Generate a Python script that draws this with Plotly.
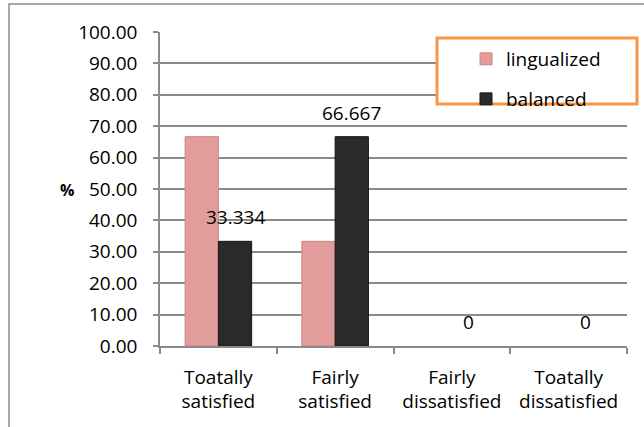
import plotly.graph_objects as go

# Survey responses (percent of respondents) by satisfaction level
categories = ["Toatally<br>satisfied", "Fairly<br>satisfied",
              "Fairly<br>dissatisfied", "Toatally<br>dissatisfied"]
lingualized = [66.667, 33.334, 0, 0]
balanced = [33.334, 66.667, 0, 0]
balanced_labels = ["33.334", "66.667", "0", "0"]
y_ticks = [0, 10, 20, 30, 40, 50, 60, 70, 80, 90, 100]

FONT = "Open Sans"
GRID = "#8a8a8a"
W, H = 644, 427
ML, MR, MT, MB = 160, 17, 32, 81
PW, PH = W - ML - MR, H - MT - MB


def px_x(x):
    return (x - ML) / PW


def px_y(y):
    return (H - MB - y) / PH


def edge_widths(values):
    # outline only bars that actually have height
    return [1 if v > 0 else 0 for v in values]


fig = go.Figure()
fig.add_trace(go.Bar(
    name="lingualized", x=categories, y=lingualized,
    marker=dict(color="#e39c9c",
                line=dict(color="#c98686", width=edge_widths(lingualized))),
    legend="legend", showlegend=True,
))
fig.add_trace(go.Bar(
    name="balanced", x=categories, y=balanced,
    marker=dict(color="#2a2a2a",
                line=dict(color="#161616", width=edge_widths(balanced))),
    legend="legend2", showlegend=True,
))

# value labels above the balanced bars
bar_px = PW / len(categories) * (1 - 0.43) / 2
annotations = []
for cat, val, lab in zip(categories, balanced, balanced_labels):
    annotations.append(dict(
        x=cat, y=val, xref="x", yref="y", text=lab, showarrow=False,
        xshift=bar_px / 2, yshift=24, yanchor="middle",
        font=dict(family=FONT, size=19, color="#000"),
    ))
annotations.append(dict(
    x=px_x(58), y=px_y(190), xref="paper", yref="paper", text="<b>%</b>",
    showarrow=False, font=dict(family=FONT, size=16, color="#000"),
))

shapes = [
    # chart frame
    dict(type="rect", xref="paper", yref="paper",
         x0=px_x(9), x1=px_x(660), y0=px_y(440), y1=px_y(4),
         line=dict(color="#8c8c8c", width=1.5), layer="below"),
    # legend box
    dict(type="rect", xref="paper", yref="paper",
         x0=px_x(437), x1=px_x(637), y0=px_y(104), y1=px_y(38),
         line=dict(color="#f79646", width=3), fillcolor="white", layer="above"),
]

legend_common = dict(
    bgcolor="rgba(0,0,0,0)", borderwidth=0, xanchor="left", yanchor="middle",
    font=dict(family=FONT, size=19, color="#000"),
)

fig.update_layout(
    width=W, height=H,
    margin=dict(l=ML, r=MR, t=MT, b=MB),
    paper_bgcolor="white", plot_bgcolor="white",
    barmode="group", bargap=0.43, bargroupgap=0,
    showlegend=True,
    font=dict(family=FONT, size=19, color="#000"),
    legend=dict(x=px_x(466), y=px_y(59), **legend_common),
    legend2=dict(x=px_x(466), y=px_y(99), **legend_common),
    annotations=annotations,
    shapes=shapes,
    xaxis=dict(
        type="category", range=[-0.5, 3.5], showgrid=False,
        showline=True, linecolor=GRID, linewidth=1.5,
        ticks="outside", tickson="boundaries", ticklen=6, tickcolor=GRID,
        tickwidth=1.5, ticklabelstandoff=13,
        tickfont=dict(family=FONT, size=19, color="#000"),
    ),
    yaxis=dict(
        range=[0, 100], tickvals=y_ticks,
        ticktext=[f"{v:.2f}" for v in y_ticks],
        showgrid=True, gridcolor=GRID, gridwidth=1.5,
        zeroline=False, showline=True, linecolor=GRID, linewidth=1.5,
        ticks="outside", ticklen=5, tickcolor=GRID, tickwidth=1.5,
        ticklabelstandoff=12,
        tickfont=dict(family=FONT, size=19, color="#000"),
    ),
)

fig.write_html("out.html")
